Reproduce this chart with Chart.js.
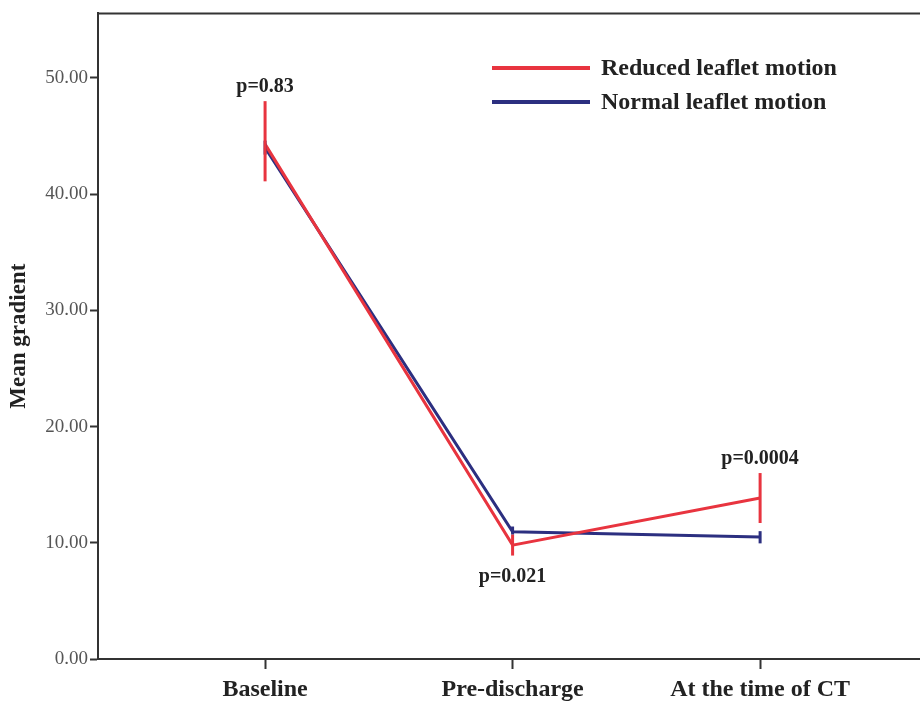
<!DOCTYPE html>
<html>
<head>
<meta charset="utf-8">
<script src="https://cdn.jsdelivr.net/npm/chart.js@4.4.1/dist/chart.umd.min.js"></script>
<style>
  html, body { margin: 0; padding: 0; background: #fff; }
  #wrap { width: 920px; height: 703px; }
</style>
</head>
<body>
<div id="wrap"><canvas id="grafico"></canvas></div>
<script>
// time points
const momentos = ['Baseline', 'Pre-discharge', 'At the time of CT'];

// mean gradient per group
const reduzido = [44.3, 9.8, 13.85];
const normal = [44.0, 10.95, 10.5];

// error bar ends (low / high)
const reduzidoMin = [41.1, 8.9, 11.7];
const reduzidoMax = [48.0, 10.7, 16.0];
const normalMin = [43.4, 10.7, 9.95];
const normalMax = [44.6, 11.4, 11.0];

// p values shown per time point, and which end of the red bar they sit on
const valoresP = ['p=0.83', 'p=0.021', 'p=0.0004'];
const ladoP = ['top', 'bottom', 'top'];

const yTicks = [0, 10, 20, 30, 40, 50];

const VERMELHO = '#e8343f';
const AZUL = '#2c2f80';
const fonteSerif = '"Liberation Serif", "Times New Roman", serif';

const pontos = (vals) => vals.map((v, i) => ({ x: i, y: v }));

const barrasErro = {
    id: 'barrasErro',
    afterDatasetsDraw(chart) {
        const ctx = chart.ctx;
        const xs = chart.scales.x, ys = chart.scales.y;
        const grupos = [
            { min: normalMin, max: normalMax, cor: AZUL },
            { min: reduzidoMin, max: reduzidoMax, cor: VERMELHO }
        ];
        ctx.save();
        ctx.lineWidth = 3;
        grupos.forEach(g => {
            ctx.strokeStyle = g.cor;
            for (let i = 0; i < momentos.length; i++) {
                const px = xs.getPixelForValue(i);
                ctx.beginPath();
                ctx.moveTo(px, ys.getPixelForValue(g.min[i]));
                ctx.lineTo(px, ys.getPixelForValue(g.max[i]));
                ctx.stroke();
            }
        });

        // p values
        ctx.fillStyle = '#222';
        ctx.font = 'bold 20px ' + fonteSerif;
        ctx.textAlign = 'center';
        ctx.textBaseline = 'middle';
        for (let i = 0; i < valoresP.length; i++) {
            const px = xs.getPixelForValue(i);
            if (ladoP[i] === 'top') {
                ctx.fillText(valoresP[i], px, ys.getPixelForValue(reduzidoMax[i]) - 14);
            } else {
                ctx.fillText(valoresP[i], px, ys.getPixelForValue(reduzidoMin[i]) + 21);
            }
        }

        // frame line on top
        const area = chart.chartArea;
        ctx.strokeStyle = '#333';
        ctx.lineWidth = 2;
        ctx.beginPath();
        ctx.moveTo(area.left - 1, area.top);
        ctx.lineTo(chart.width, area.top);
        ctx.stroke();

        // legend
        const itens = chart.data.datasets;
        ctx.font = 'bold 24px ' + fonteSerif;
        ctx.textAlign = 'left';
        itens.forEach((ds, k) => {
            const ly = 68 + k * 34;
            ctx.strokeStyle = ds.borderColor;
            ctx.lineWidth = 4;
            ctx.beginPath();
            ctx.moveTo(492, ly);
            ctx.lineTo(590, ly);
            ctx.stroke();
            ctx.fillStyle = '#222';
            ctx.fillText(ds.label, 601, ly + 1);
        });
        ctx.restore();
    }
};

new Chart(document.getElementById('grafico'), {
    type: 'line',
    data: {
        datasets: [
            {
                label: 'Reduced leaflet motion',
                data: pontos(reduzido),
                borderColor: VERMELHO,
                borderWidth: 3,
                pointRadius: 0,
                tension: 0
            },
            {
                label: 'Normal leaflet motion',
                data: pontos(normal),
                borderColor: AZUL,
                borderWidth: 3,
                pointRadius: 0,
                tension: 0
            }
        ]
    },
    options: {
        responsive: true,
        maintainAspectRatio: false,
        animation: false,
        layout: { padding: { left: 0, right: 0, top: 9, bottom: 0 } },
        plugins: {
            legend: { display: false },
            tooltip: { enabled: false }
        },
        scales: {
            x: {
                type: 'linear',
                min: -0.675,
                max: 2.646,
                afterBuildTicks: (s) => { s.ticks = momentos.map((m, i) => ({ value: i })); },
                afterFit: (s) => { s.height = 44; },
                ticks: {
                    autoSkip: false,
                    maxRotation: 0,
                    padding: 6,
                    color: '#222',
                    font: { family: fonteSerif, size: 24, weight: 'bold' },
                    callback: (v) => momentos[v]
                },
                grid: {
                    drawOnChartArea: false,
                    drawTicks: true,
                    tickLength: 10,
                    tickWidth: 2,
                    tickColor: '#333'
                },
                border: { display: true, color: '#333', width: 2 }
            },
            y: {
                min: 0,
                max: 55.55,
                afterBuildTicks: (s) => { s.ticks = yTicks.map(v => ({ value: v })); },
                afterFit: (s) => { s.width = 98; },
                ticks: {
                    padding: 2,
                    color: '#555',
                    font: { family: fonteSerif, size: 19 },
                    callback: (v) => v.toFixed(2)
                },
                grid: {
                    drawOnChartArea: false,
                    drawTicks: true,
                    tickLength: 8,
                    tickWidth: 2,
                    tickColor: '#333'
                },
                border: { display: true, color: '#333', width: 2 },
                title: {
                    display: true,
                    text: 'Mean gradient',
                    color: '#222',
                    font: { family: fonteSerif, size: 23, weight: 'bold' },
                    padding: { top: 5, bottom: 0 }
                }
            }
        }
    },
    plugins: [barrasErro]
});
</script>
</body>
</html>
